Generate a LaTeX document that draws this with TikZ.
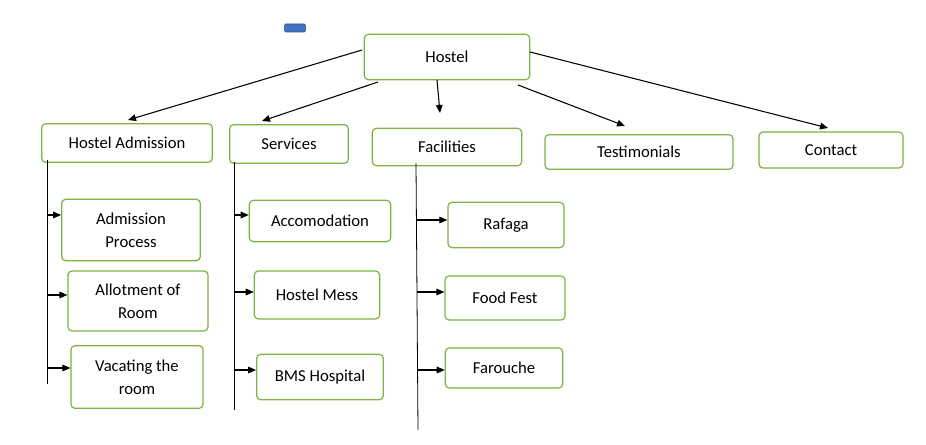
\documentclass[tikz,border=0pt]{standalone}
\usepackage{fontspec}
\setmainfont{Carlito}
\usetikzlibrary{arrows.meta}
\definecolor{bx}{HTML}{7CB342}
\definecolor{bb}{HTML}{4472C4}
\begin{document}
\begin{tikzpicture}[x=0.75pt,y=-0.75pt,
  box/.style={draw=bx,line width=0.9pt,rounded corners=3pt,fill=white,font=\fontsize{12.5}{17}\selectfont,align=center,inner sep=0pt},
  arr/.style={-{Triangle[length=6pt,width=5pt]},line width=0.8pt},
  vl/.style={line width=0.6pt}]
\useasboundingbox (0,0) rectangle (926,445);
\node[draw=bb!70!black,fill=bb,rounded corners=1pt,minimum width=16pt,minimum height=6pt,inner sep=0pt] (bl) at (295,28) {};
\node[box,minimum width=124pt,minimum height=34pt] (h) at (447,57) {Hostel};
\node[box,minimum width=128pt,minimum height=29pt] (ha) at (127,143) {Hostel Admission};
\node[box,minimum width=89pt,minimum height=29pt] (sv) at (289,144) {Services};
\node[box,minimum width=112pt,minimum height=28pt] (fa) at (447,147) {Facilities};
\node[box,minimum width=141pt,minimum height=26pt] (te) at (639,152) {Testimonials};
\node[box,minimum width=108pt,minimum height=27pt] (co) at (831,150) {Contact};
\node[box,minimum width=104pt,minimum height=46pt] (a1) at (131,230) {Admission\\Process};
\node[box,minimum width=105pt,minimum height=45pt] (a2) at (138,301) {Allotment of\\Room};
\node[box,minimum width=99pt,minimum height=47pt] (a3) at (137,377) {Vacating the\\room};
\node[box,minimum width=106pt,minimum height=31pt] (s1) at (320,221) {Accomodation};
\node[box,minimum width=94pt,minimum height=36pt] (s2) at (317,295) {Hostel Mess};
\node[box,minimum width=95pt,minimum height=34pt] (s3) at (320,377) {BMS Hospital};
\node[box,minimum width=87pt,minimum height=34pt] (f1) at (506,225) {Rafaga};
\node[box,minimum width=90pt,minimum height=33pt] (f2) at (505,298) {Food Fest};
\node[box,minimum width=88pt,minimum height=30pt] (f3) at (504,368) {Farouche};
\coordinate (h1) at (362,50); \coordinate (h2) at (378,82); \coordinate (h3) at (437,80);
\coordinate (h4) at (518,85); \coordinate (h5) at (530,52);
\draw[arr] (h1) -- (128,120);
\draw[arr] (h2) -- (262,121);
\draw[arr] (h3) -- (440,113);
\draw[arr] (h4) -- (625,126);
\draw[arr] (h5) -- (828,128);
\draw[vl] (47,160) -- (47,384);
\draw[vl] (234,162) -- (234,410);
\draw[vl] (416,163) -- (418,430);
\foreach \y/\n in {215/a1,295/a2,368/a3} \draw[arr] (47,\y) -- (\n.west|-0,\y);
\foreach \y/\n in {215/s1,292/s2,370/s3} \draw[arr] (234,\y) -- (\n.west|-0,\y);
\foreach \y/\n in {220/f1,292/f2,370/f3} \draw[arr] (417,\y) -- (\n.west|-0,\y);
\end{tikzpicture}
\end{document}
